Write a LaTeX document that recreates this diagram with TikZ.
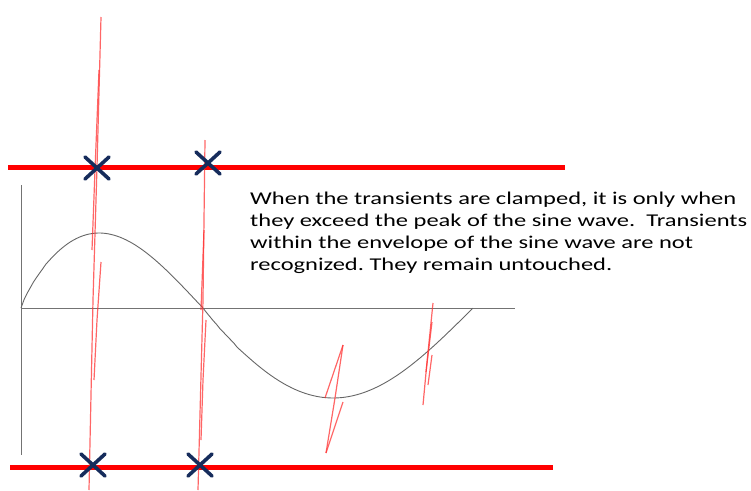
\documentclass[tikz,border=0pt]{standalone}
\usepackage{fontspec}
\setmainfont{Carlito}
\newfontfamily\widefont[FakeStretch=1.36]{Carlito}
\frenchspacing
\begin{document}
\begin{tikzpicture}[x=1pt,y=-1pt,
  clampline/.style={red,line width=5pt},
  axisline/.style={draw=black!55,line width=0.9pt},
  wave/.style={draw=black!60,line width=0.9pt},
  spike/.style={red!80,opacity=0.75,line width=1.2pt,line join=round},
  xmark/.style={draw=navy,line width=3.6pt,line cap=round},
  note/.style={anchor=north west,align=left,inner sep=0pt,font=\widefont\fontsize{18}{22}\selectfont,text=black}]
\definecolor{navy}{RGB}{22,44,92}
\useasboundingbox (0,0) rectangle (751,490);
% clamp levels
\coordinate (tl) at (8,167); \coordinate (tr) at (565,167);
\coordinate (bl) at (10,467); \coordinate (br) at (553,467);
\draw[clampline] (tl) -- (tr);
\draw[clampline] (bl) -- (br);
% axes
\coordinate (o) at (21,308); \coordinate (ytop) at (21,185); \coordinate (ybot) at (21,455); \coordinate (xend) at (515,308);
\draw[axisline] (ytop) -- (ybot);
\draw[axisline] (o) -- (xend);
% sine wave
\draw[wave] plot[domain=0:1,samples=60,variable=\t] ({21+182*\t},{308-75*sin(180*(\t^0.82))});
\draw[wave] plot[domain=0:1,samples=80,variable=\t] ({203+270*\t},{308+90*sin(180*(\t^0.95))});
% transient spikes
\draw[spike] (101,17) -- (97,167) -- (93,300) -- (89,490);
\draw[spike] (99,70) -- (95,170) -- (92,250);
\draw[spike] (101,262) -- (97,320) -- (94,380);
\draw[spike] (205,140) -- (203,300) -- (198,490);
\draw[spike] (204,230) -- (201,310);
\draw[spike] (206,320) -- (203,380) -- (201,440);
\draw[spike] (343,345) -- (325,398);
\draw[spike] (343,345) -- (335,398) -- (326,453);
\draw[spike] (343,402) -- (326,453);
\draw[spike] (433,303) -- (427,362) -- (423,405);
\draw[spike] (432,322) -- (426,372);
\draw[spike] (432,355) -- (428,385);
% X marks
\foreach \n/\cx/\cy in {x1/97/168,x2/208/163,x3/93/465,x4/200/465}{
  \coordinate (\n) at (\cx,\cy);
  \draw[xmark] ([shift={(-12,-11)}]\n) -- ([shift={(12,11)}]\n);
  \draw[xmark] ([shift={(-12,11)}]\n) -- ([shift={(12,-11)}]\n);
}
% text
\node[note] (txt) at (250,192) {When the transients are clamped, it is only when\\they exceed the peak of the sine wave.\ \ Transients\\within the envelope of the sine wave are not\\recognized. They remain untouched.};
\end{tikzpicture}
\end{document}
